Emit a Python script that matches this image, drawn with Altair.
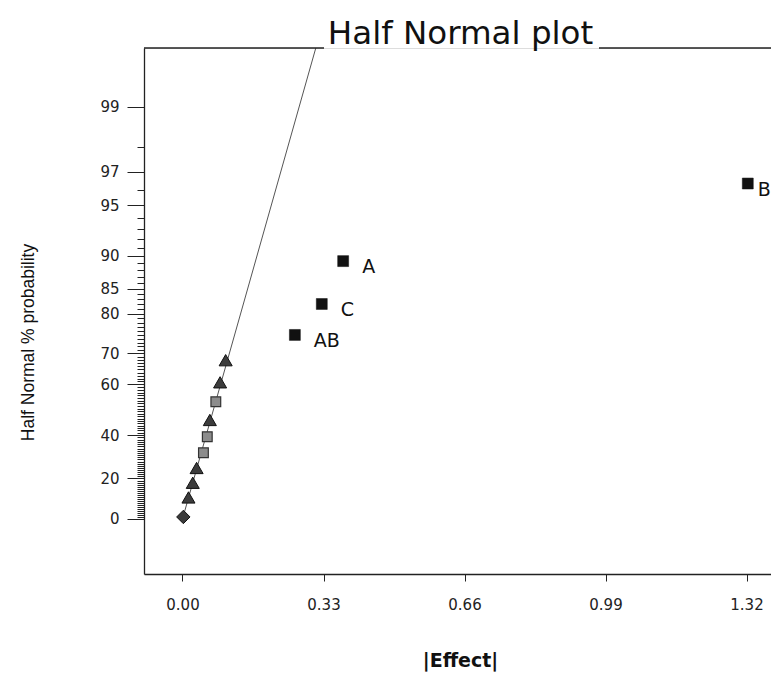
import altair as alt
import pandas as pd
from statistics import NormalDist

# ---- data ----
effects = [0.002, 0.014, 0.024, 0.033, 0.049, 0.058, 0.064, 0.078, 0.088, 0.101,
           0.263, 0.326, 0.376, 1.323]
probs = [1.0, 10.7, 17.9, 25.0, 32.1, 39.3, 46.4, 53.6, 60.7, 67.9,
         75.0, 82.1, 89.3, 96.4]
kinds = ["diamond", "tri", "tri", "tri", "sq", "sq", "tri", "sq", "tri", "tri",
         "big", "big", "big", "big"]
labels = ["", "", "", "", "", "", "", "", "", "", "AB", "C", "A", "B"]

line_effect = [0.0, 0.3124]
line_prob = [0.0, 99.68]

x_ticks = [0.00, 0.33, 0.66, 0.99, 1.32]
y_major = [0, 20, 40, 60, 70, 80, 85, 90, 95, 97, 99]
y_all = list(range(0, 100))

chart_title = "Half Normal plot"

# ---- tables ----
df = pd.DataFrame({"effect": effects, "p": probs, "kind": kinds, "label": labels})
df_line = pd.DataFrame({"effect": line_effect, "p": line_prob})
one = pd.DataFrame({"t": [chart_title]})

nd = NormalDist()
y_tick_vals = [nd.inv_cdf(0.5 + v / 200.0) for v in y_all]

pct = "round((2*cumulativeNormal(datum.value)-1)*100)"
is_major = "indexof([" + ",".join(str(v) for v in y_major) + "], " + pct + ") >= 0"

x_enc = alt.X(
    "effect:Q",
    scale=alt.Scale(domain=[-0.0901, 1.3773], nice=False, zero=False),
    axis=alt.Axis(
        values=x_ticks, format=".2f", grid=False,
        title="|Effect|", titleFont="DejaVu Sans", titleFontSize=19,
        titleFontWeight="bold", titleColor="#111",
        titleX=316, titleY=86, titleAlign="center", titleBaseline="middle",
        labelFont="DejaVu Sans", labelFontSize=15, labelColor="#222",
        labelPadding=16, tickSize=7, tickColor="#222", domainColor="#222",
        domainWidth=1.3, labelFlush=False, labelOverlap=False,
    ),
)

y_enc = alt.Y(
    "z:Q",
    scale=alt.Scale(domain=[-0.344, 2.944], nice=False, zero=False),
    axis=alt.Axis(
        values=y_tick_vals, grid=False,
        labelExpr=is_major + " ? " + pct + " : ''",
        tickSize={"condition": {"test": is_major, "value": 17}, "value": 7},
        labelFont="DejaVu Sans", labelFontSize=15, labelColor="#222",
        labelPadding=8, tickColor="#222", domainColor="#222", domainWidth=1.3,
        labelOverlap=False, labelFlush=False,
        title="Half Normal % probability", titleFont="Liberation Sans",
        titleFontSize=17.5, titleFontWeight="normal", titleColor="#111",
        titleX=-116, titleY=294, titleAlign="center", titleBaseline="middle",
        titleAngle=-90,
    ),
)

calc = "quantileNormal(0.5 + datum.p/200)"

line = alt.Chart(df_line).transform_calculate(z=calc).mark_line(
    color="#555", strokeWidth=1, clip=True
).encode(x=x_enc, y=y_enc)

base = alt.Chart(df).transform_calculate(z=calc)

diamond = base.transform_filter("datum.kind == 'diamond'").mark_point(
    shape="diamond", filled=True, size=180, fill="#3a3a3a", stroke="#111",
    strokeWidth=1, opacity=1
).encode(x=x_enc, y=y_enc)

tri = base.transform_filter("datum.kind == 'tri'").mark_point(
    shape="triangle-up", filled=True, size=170, fill="#3c3c3c", stroke="#111",
    strokeWidth=1, opacity=1
).encode(x=x_enc, y=y_enc)

sq = base.transform_filter("datum.kind == 'sq'").mark_point(
    shape="square", filled=True, size=95, fill="#8c8c8c", stroke="#333",
    strokeWidth=1.2, opacity=1
).encode(x=x_enc, y=y_enc)

big = base.transform_filter("datum.kind == 'big'").mark_point(
    shape="square", filled=True, size=120, fill="#111", stroke="#111",
    strokeWidth=0.5, opacity=1
).encode(x=x_enc, y=y_enc)

txt = base.transform_filter("datum.kind == 'big' && datum.label != 'B'").mark_text(
    align="left", baseline="alphabetic", dx=19, dy=12, font="DejaVu Sans",
    fontSize=19, color="#111"
).encode(x=x_enc, y=y_enc, text="label:N")

txt_b = base.transform_filter("datum.label == 'B'").mark_text(
    align="left", baseline="alphabetic", dx=10, dy=12, font="DejaVu Sans",
    fontSize=19, color="#111"
).encode(x=x_enc, y=y_enc, text="label:N")

top_left = alt.Chart(one).mark_rule(color="#222", strokeWidth=1.3).encode(
    x=alt.value(0), x2=alt.value(180), y=alt.value(0)
)
top_right = alt.Chart(one).mark_rule(color="#222", strokeWidth=1.3).encode(
    x=alt.value(455), x2=alt.value(627), y=alt.value(0)
)

title_txt = alt.Chart(one).mark_text(
    align="center", baseline="alphabetic", font="DejaVu Sans", fontSize=32.5,
    color="#111"
).encode(x=alt.value(316.5), y=alt.value(-4), text="t:N")

chart = alt.layer(
    line, top_left, top_right, diamond, tri, sq, big, txt, txt_b, title_txt
).properties(
    width=627,
    height=526,
    autosize=alt.AutoSizeParams(type="none"),
    padding={"left": 136, "top": 40, "right": 0, "bottom": 100},
).configure_view(stroke="transparent", strokeWidth=0).configure(background="white")

chart.save("out.html", embed_options={"renderer": "svg", "actions": False})
